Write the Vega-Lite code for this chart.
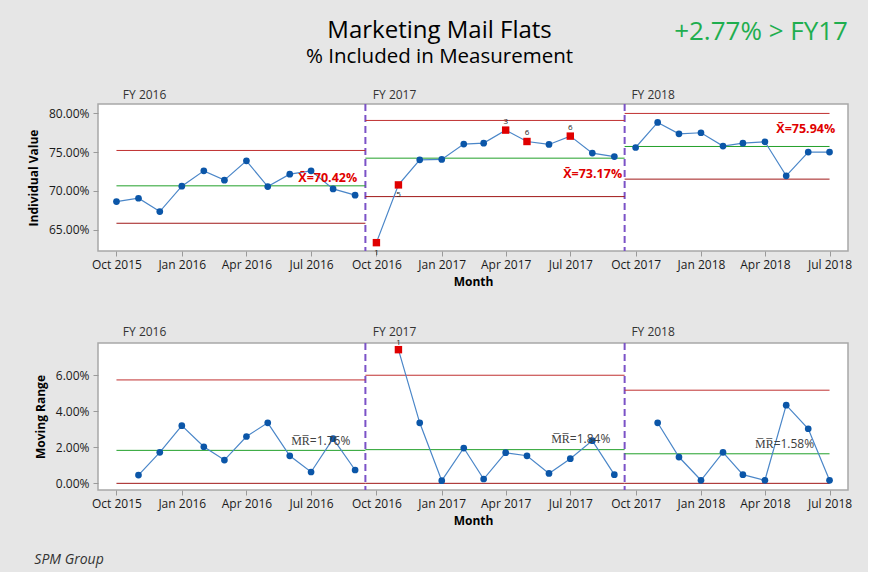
{
  "$schema": "https://vega.github.io/schema/vega-lite/v6.json",
  "background": "#e6e6e6",
  "padding": {"left": 26, "top": 17, "right": 15, "bottom": 4},
  "title": {
    "text": "Marketing Mail Flats",
    "subtitle": "% Included in Measurement",
    "anchor": "middle",
    "fontSize": 24,
    "subtitleFontSize": 20.5,
    "fontWeight": "normal",
    "color": "#000000",
    "subtitleColor": "#000000",
    "subtitlePadding": 4,
    "offset": -50
  },
  "datasets": {
    "obs": [
      {"month": "2015-10-01T00:00", "stage": "FY 2016", "value": 68.64, "mr": null, "testI": "", "testMR": ""},
      {"month": "2015-11-01T00:00", "stage": "FY 2016", "value": 69.07, "mr": 0.46, "testI": "", "testMR": ""},
      {"month": "2015-12-01T00:00", "stage": "FY 2016", "value": 67.36, "mr": 1.72, "testI": "", "testMR": ""},
      {"month": "2016-01-01T00:00", "stage": "FY 2016", "value": 70.62, "mr": 3.20, "testI": "", "testMR": ""},
      {"month": "2016-02-01T00:00", "stage": "FY 2016", "value": 72.58, "mr": 2.03, "testI": "", "testMR": ""},
      {"month": "2016-03-01T00:00", "stage": "FY 2016", "value": 71.39, "mr": 1.29, "testI": "", "testMR": ""},
      {"month": "2016-04-01T00:00", "stage": "FY 2016", "value": 73.87, "mr": 2.60, "testI": "", "testMR": ""},
      {"month": "2016-05-01T00:00", "stage": "FY 2016", "value": 70.57, "mr": 3.36, "testI": "", "testMR": ""},
      {"month": "2016-06-01T00:00", "stage": "FY 2016", "value": 72.16, "mr": 1.53, "testI": "", "testMR": ""},
      {"month": "2016-07-01T00:00", "stage": "FY 2016", "value": 72.58, "mr": 0.63, "testI": "", "testMR": ""},
      {"month": "2016-08-01T00:00", "stage": "FY 2016", "value": 70.27, "mr": 2.48, "testI": "", "testMR": ""},
      {"month": "2016-09-01T00:00", "stage": "FY 2016", "value": 69.46, "mr": 0.74, "testI": "", "testMR": ""},
      {"month": "2016-10-01T00:00", "stage": "FY 2017", "value": 63.37, "mr": null, "testI": "1", "testMR": ""},
      {"month": "2016-11-01T00:00", "stage": "FY 2017", "value": 70.78, "mr": 7.42, "testI": "5", "testMR": "1"},
      {"month": "2016-12-01T00:00", "stage": "FY 2017", "value": 74.00, "mr": 3.36, "testI": "", "testMR": ""},
      {"month": "2017-01-01T00:00", "stage": "FY 2017", "value": 74.05, "mr": 0.15, "testI": "", "testMR": ""},
      {"month": "2017-02-01T00:00", "stage": "FY 2017", "value": 76.02, "mr": 1.96, "testI": "", "testMR": ""},
      {"month": "2017-03-01T00:00", "stage": "FY 2017", "value": 76.14, "mr": 0.24, "testI": "", "testMR": ""},
      {"month": "2017-04-01T00:00", "stage": "FY 2017", "value": 77.81, "mr": 1.70, "testI": "3", "testMR": ""},
      {"month": "2017-05-01T00:00", "stage": "FY 2017", "value": 76.35, "mr": 1.53, "testI": "6", "testMR": ""},
      {"month": "2017-06-01T00:00", "stage": "FY 2017", "value": 75.97, "mr": 0.55, "testI": "", "testMR": ""},
      {"month": "2017-07-01T00:00", "stage": "FY 2017", "value": 77.04, "mr": 1.37, "testI": "6", "testMR": ""},
      {"month": "2017-08-01T00:00", "stage": "FY 2017", "value": 74.86, "mr": 2.37, "testI": "", "testMR": ""},
      {"month": "2017-09-01T00:00", "stage": "FY 2017", "value": 74.42, "mr": 0.48, "testI": "", "testMR": ""},
      {"month": "2017-10-01T00:00", "stage": "FY 2018", "value": 75.58, "mr": null, "testI": "", "testMR": ""},
      {"month": "2017-11-01T00:00", "stage": "FY 2018", "value": 78.79, "mr": 3.36, "testI": "", "testMR": ""},
      {"month": "2017-12-01T00:00", "stage": "FY 2018", "value": 77.34, "mr": 1.46, "testI": "", "testMR": ""},
      {"month": "2018-01-01T00:00", "stage": "FY 2018", "value": 77.47, "mr": 0.17, "testI": "", "testMR": ""},
      {"month": "2018-02-01T00:00", "stage": "FY 2018", "value": 75.76, "mr": 1.72, "testI": "", "testMR": ""},
      {"month": "2018-03-01T00:00", "stage": "FY 2018", "value": 76.14, "mr": 0.48, "testI": "", "testMR": ""},
      {"month": "2018-04-01T00:00", "stage": "FY 2018", "value": 76.31, "mr": 0.17, "testI": "", "testMR": ""},
      {"month": "2018-05-01T00:00", "stage": "FY 2018", "value": 71.94, "mr": 4.34, "testI": "", "testMR": ""},
      {"month": "2018-06-01T00:00", "stage": "FY 2018", "value": 74.99, "mr": 3.03, "testI": "", "testMR": ""},
      {"month": "2018-07-01T00:00", "stage": "FY 2018", "value": 74.99, "mr": 0.17, "testI": "", "testMR": ""}
    ],
    "limits": [
      {"stage": "FY 2016", "start": "2015-10-01T00:00", "end": "2016-09-15T12:00", "ucl": 75.2, "cl": 70.66, "lcl": 65.86, "mr_ucl": 5.74, "mr_cl": 1.83, "mr_lcl": 0},
      {"stage": "FY 2017", "start": "2016-09-15T12:00", "end": "2017-09-15T12:00", "ucl": 79.05, "cl": 74.21, "lcl": 69.28, "mr_ucl": 6.0, "mr_cl": 1.87, "mr_lcl": 0},
      {"stage": "FY 2018", "start": "2017-09-15T12:00", "end": "2018-07-01T00:00", "ucl": 79.95, "cl": 75.71, "lcl": 71.52, "mr_ucl": 5.17, "mr_cl": 1.64, "mr_lcl": 0}
    ],
    "splits": [
      {"b": "2016-09-15T12:00"},
      {"b": "2017-09-15T12:00"}
    ],
    "fy": [
      {"d": "2015-10-10T00:00", "label": "FY 2016"},
      {"d": "2016-09-26T00:00", "label": "FY 2017"},
      {"d": "2017-09-25T00:00", "label": "FY 2018"}
    ],
    "inotes": [
      {"d": "2016-09-04T00:00", "y": 71.68, "label": "X\u0304=70.42%"},
      {"d": "2017-09-12T00:00", "y": 72.2, "label": "X\u0304=73.17%"},
      {"d": "2018-07-09T00:00", "y": 77.98, "label": "X\u0304=75.94%"}
    ],
    "mrnotes": [
      {"d": "2016-06-03T00:00", "y": 2.34, "label": "M\u0305R\u0305=1.76%"},
      {"d": "2017-06-04T00:00", "y": 2.44, "label": "M\u0305R\u0305=1.84%"},
      {"d": "2018-03-18T00:00", "y": 2.18, "label": "M\u0305R\u0305=1.58%"}
    ]
  },
  "spacing": 36,
  "vconcat": [
    {
      "width": 750,
      "height": 147,
      "title": {
        "text": "+2.77% > FY17",
        "anchor": "end",
        "frame": "group",
        "fontSize": 26,
        "fontWeight": "normal",
        "color": "#1fae4f",
        "offset": 44
      },
      "layer": [
        {
          "data": {"name": "splits"},
          "mark": {"type": "rule", "color": "#7b52c7", "strokeWidth": 2, "strokeDash": [7, 4]},
          "encoding": {
            "x": {"field": "b", "type": "temporal", "title": "Month",
              "scale": {"domain": [{"year": 2015, "month": 9, "date": 5}, {"year": 2018, "month": 7, "date": 27}]},
              "axis": {"format": "%b %Y", "tickCount": {"interval": "month", "step": 3}}}
          }
        },
        {
          "data": {"name": "limits"},
          "mark": {"type": "rule", "color": "#c03030", "strokeWidth": 1},
          "encoding": {
            "x": {"field": "start", "type": "temporal", "title": "Month"},
            "x2": {"field": "end"},
            "y": {"field": "ucl", "type": "quantitative", "title": "Individual Value",
              "scale": {"domain": [62.3, 81.16], "nice": false, "zero": false},
              "axis": {"values": [65, 70, 75, 80], "labelExpr": "format(datum.value, '.2f') + '%'"}}
          }
        },
        {
          "data": {"name": "limits"},
          "mark": {"type": "rule", "color": "#a01818", "strokeWidth": 1},
          "encoding": {
            "x": {"field": "start", "type": "temporal", "title": "Month"},
            "x2": {"field": "end"},
            "y": {"field": "lcl", "type": "quantitative", "title": "Individual Value"}
          }
        },
        {
          "data": {"name": "limits"},
          "mark": {"type": "rule", "color": "#22a02a", "strokeWidth": 1},
          "encoding": {
            "x": {"field": "start", "type": "temporal", "title": "Month"},
            "x2": {"field": "end"},
            "y": {"field": "cl", "type": "quantitative", "title": "Individual Value"}
          }
        },
        {
          "data": {"name": "obs"},
          "mark": {"type": "line", "color": "#4a86c8", "strokeWidth": 1.2},
          "encoding": {
            "x": {"field": "month", "type": "temporal", "title": "Month"},
            "y": {"field": "value", "type": "quantitative", "title": "Individual Value"},
            "detail": {"field": "stage"}
          }
        },
        {
          "data": {"name": "obs"},
          "mark": {"type": "point", "filled": true, "opacity": 1},
          "encoding": {
            "x": {"field": "month", "type": "temporal", "title": "Month"},
            "y": {"field": "value", "type": "quantitative", "title": "Individual Value"},
            "shape": {"condition": {"test": "datum.testI != ''", "value": "square"}, "value": "circle"},
            "color": {"condition": {"test": "datum.testI != ''", "value": "#e00000"}, "value": "#0b56a8"},
            "size": {"condition": {"test": "datum.testI != ''", "value": 55}, "value": 45}
          }
        },
        {
          "data": {"name": "obs"},
          "transform": [{"filter": "datum.testI == '1' || datum.testI == '5'"}],
          "mark": {"type": "text", "fontSize": 8, "color": "#222222", "dy": 10},
          "encoding": {
            "x": {"field": "month", "type": "temporal", "title": "Month"},
            "y": {"field": "value", "type": "quantitative", "title": "Individual Value"},
            "text": {"field": "testI"}
          }
        },
        {
          "data": {"name": "obs"},
          "transform": [{"filter": "datum.testI == '3' || datum.testI == '6'"}],
          "mark": {"type": "text", "fontSize": 8, "color": "#222222", "dy": -8},
          "encoding": {
            "x": {"field": "month", "type": "temporal", "title": "Month"},
            "y": {"field": "value", "type": "quantitative", "title": "Individual Value"},
            "text": {"field": "testI"}
          }
        },
        {
          "data": {"name": "inotes"},
          "mark": {"type": "text", "fontSize": 12.5, "fontWeight": "bold", "color": "#e00000", "align": "right", "baseline": "middle"},
          "encoding": {
            "x": {"field": "d", "type": "temporal", "title": "Month"},
            "y": {"field": "y", "type": "quantitative", "title": "Individual Value"},
            "text": {"field": "label"}
          }
        },
        {
          "data": {"name": "fy"},
          "mark": {"type": "text", "fontSize": 12, "color": "#333333", "align": "left", "baseline": "middle"},
          "encoding": {
            "x": {"field": "d", "type": "temporal", "title": "Month"},
            "y": {"datum": 82.35, "type": "quantitative", "title": "Individual Value"},
            "text": {"field": "label"}
          }
        }
      ]
    },
    {
      "width": 750,
      "height": 147,
      "title": {
        "text": "SPM Group",
        "orient": "bottom",
        "anchor": "start",
        "frame": "bounds",
        "fontSize": 14,
        "fontStyle": "italic",
        "fontWeight": "normal",
        "color": "#333333",
        "offset": 27
      },
      "layer": [
        {
          "data": {"name": "splits"},
          "mark": {"type": "rule", "color": "#7b52c7", "strokeWidth": 2, "strokeDash": [7, 4]},
          "encoding": {
            "x": {"field": "b", "type": "temporal", "title": "Month",
              "scale": {"domain": [{"year": 2015, "month": 9, "date": 5}, {"year": 2018, "month": 7, "date": 27}]},
              "axis": {"format": "%b %Y", "tickCount": {"interval": "month", "step": 3}}}
          }
        },
        {
          "data": {"name": "limits"},
          "mark": {"type": "rule", "color": "#c03030", "strokeWidth": 1},
          "encoding": {
            "x": {"field": "start", "type": "temporal", "title": "Month"},
            "x2": {"field": "end"},
            "y": {"field": "mr_ucl", "type": "quantitative", "title": "Moving Range",
              "scale": {"domain": [-0.37, 7.79], "nice": false, "zero": false},
              "axis": {"values": [0, 2, 4, 6], "labelExpr": "format(datum.value, '.2f') + '%'"}}
          }
        },
        {
          "data": {"name": "limits"},
          "mark": {"type": "rule", "color": "#a01818", "strokeWidth": 1},
          "encoding": {
            "x": {"field": "start", "type": "temporal", "title": "Month"},
            "x2": {"field": "end"},
            "y": {"field": "mr_lcl", "type": "quantitative", "title": "Moving Range"}
          }
        },
        {
          "data": {"name": "limits"},
          "mark": {"type": "rule", "color": "#22a02a", "strokeWidth": 1},
          "encoding": {
            "x": {"field": "start", "type": "temporal", "title": "Month"},
            "x2": {"field": "end"},
            "y": {"field": "mr_cl", "type": "quantitative", "title": "Moving Range"}
          }
        },
        {
          "data": {"name": "obs"},
          "mark": {"type": "line", "color": "#4a86c8", "strokeWidth": 1.2},
          "encoding": {
            "x": {"field": "month", "type": "temporal", "title": "Month"},
            "y": {"field": "mr", "type": "quantitative", "title": "Moving Range"},
            "detail": {"field": "stage"}
          }
        },
        {
          "data": {"name": "obs"},
          "transform": [{"filter": "datum.mr != null"}],
          "mark": {"type": "point", "filled": true, "opacity": 1},
          "encoding": {
            "x": {"field": "month", "type": "temporal", "title": "Month"},
            "y": {"field": "mr", "type": "quantitative", "title": "Moving Range"},
            "shape": {"condition": {"test": "datum.testMR != ''", "value": "square"}, "value": "circle"},
            "color": {"condition": {"test": "datum.testMR != ''", "value": "#e00000"}, "value": "#0b56a8"},
            "size": {"condition": {"test": "datum.testMR != ''", "value": 55}, "value": 45}
          }
        },
        {
          "data": {"name": "obs"},
          "transform": [{"filter": "datum.testMR != ''"}],
          "mark": {"type": "text", "fontSize": 8, "color": "#222222", "dy": -7},
          "encoding": {
            "x": {"field": "month", "type": "temporal", "title": "Month"},
            "y": {"field": "mr", "type": "quantitative", "title": "Moving Range"},
            "text": {"field": "testMR"}
          }
        },
        {
          "data": {"name": "mrnotes"},
          "mark": {"type": "text", "fontSize": 12, "color": "#404040", "align": "left", "baseline": "middle"},
          "encoding": {
            "x": {"field": "d", "type": "temporal", "title": "Month"},
            "y": {"field": "y", "type": "quantitative", "title": "Moving Range"},
            "text": {"field": "label"}
          }
        },
        {
          "data": {"name": "fy"},
          "mark": {"type": "text", "fontSize": 12, "color": "#333333", "align": "left", "baseline": "middle"},
          "encoding": {
            "x": {"field": "d", "type": "temporal", "title": "Month"},
            "y": {"datum": 8.42, "type": "quantitative", "title": "Moving Range"},
            "text": {"field": "label"}
          }
        }
      ]
    }
  ],
  "config": {
    "font": "Open Sans",
    "view": {"fill": "white", "stroke": "#a8a8a8", "strokeWidth": 1.5},
    "axis": {
      "grid": false,
      "domain": false,
      "tickColor": "#9a9a9a",
      "tickSize": 5,
      "labelFontSize": 12,
      "labelColor": "#1a1a1a",
      "titleFontSize": 12,
      "titleFontWeight": "bold",
      "titleColor": "#000000"
    },
    "axisY": {"titlePadding": 8, "labelPadding": 4},
    "axisX": {"titlePadding": 6, "labelPadding": 3}
  }
}
